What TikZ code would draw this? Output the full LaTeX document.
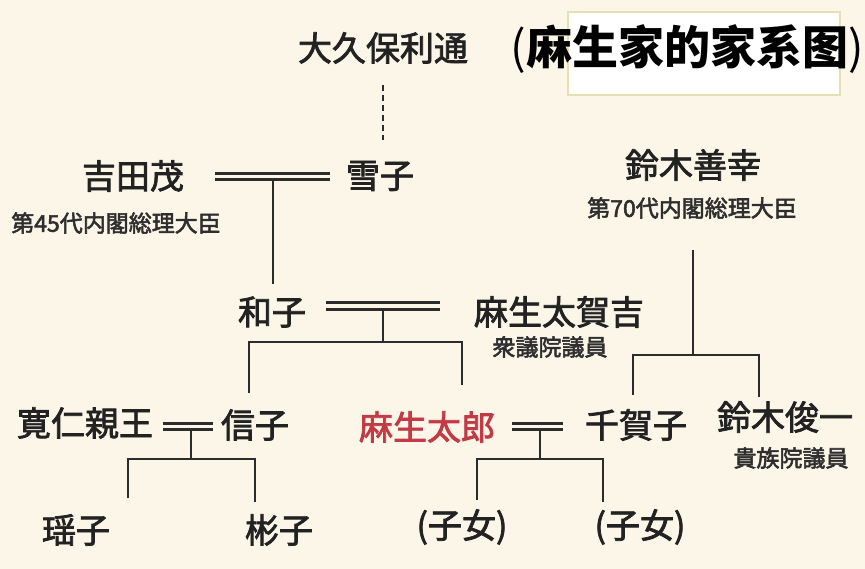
\documentclass[tikz,border=0pt]{standalone}
\usepackage{fontspec}
\setmainfont{Noto Sans CJK JP}
\newfontfamily\jpfont{Noto Sans CJK JP}[FakeBold=2.2]
\newfontfamily\notefont{Noto Sans CJK JP}[FakeBold=2.4]
\newfontfamily\titlefont{Noto Sans CJK SC}
\definecolor{bgcol}{HTML}{FBF6E8}
\definecolor{inkcol}{HTML}{222222}
\definecolor{notecol}{HTML}{2E2E2E}
\definecolor{linecol}{HTML}{2C2C2C}
\definecolor{redcol}{HTML}{C23A45}
\definecolor{boxedge}{HTML}{E4E0B2}
\begin{document}
\begin{tikzpicture}[x=1pt,y=-1pt,
  person/.style={font=\jpfont\fontsize{34}{34}\selectfont, text=inkcol, inner sep=0pt},
  note/.style={font=\notefont\fontsize{23}{23}\selectfont, text=notecol, inner sep=0pt},
  titletext/.style={font=\titlefont\bfseries\fontsize{46}{46}\selectfont, text=black, inner sep=0pt},
  kin/.style={draw=linecol, line width=2.2pt},
  marriage/.style={draw=linecol, line width=3pt, double=bgcol, double distance=3.2pt},
  dashline/.style={draw=linecol, line width=1.8pt, dash pattern=on 6pt off 4pt}]
\useasboundingbox (0,0) rectangle (865,569);
\fill[bgcol] (0,0) rectangle (865,569);
% title
\draw[fill=white, draw=boxedge, line width=2pt] (568,12) rectangle (840,95);
\node[titletext] (title) at (687,49) {{\mdseries(}麻生家的家系图{\mdseries)}};
% people
\node[person] (okubo) at (383,48) {大久保利通};
\node[person] (yoshida) at (133,176) {吉田茂};
\node[person] (yukiko) at (380,176) {雪子};
\node[note] (note45) at (116,223) {第45代内閣総理大臣};
\node[person] (suzukiZ) at (693,165) {鈴木善幸};
\node[note] (note70) at (692,208) {第70代内閣総理大臣};
\node[person] (kazuko) at (272,312) {和子};
\node[person] (takakichi) at (559,312) {麻生太賀吉};
\node[note] (noteSH) at (550,347) {衆議院議員};
\node[person] (tomohito) at (85,423) {寛仁親王};
\node[person] (nobuko) at (255,425) {信子};
\node[person, text=redcol] (taro) at (427,427) {麻生太郎};
\node[person] (chikako) at (636,425) {千賀子};
\node[person] (shunichi) at (785,417) {鈴木俊一};
\node[note] (noteKZ) at (791,458) {貴族院議員};
\node[person] (yoko) at (76,530) {瑶子};
\node[person] (akiko) at (279,530) {彬子};
\node[person] (childA) at (462,527) {(子女)};
\node[person] (childB) at (640,527) {(子女)};
% junction coordinates
\coordinate (dtop) at (383,85);
\coordinate (dbot) at (383,140);
\coordinate (m1a) at (215,176.3);
\coordinate (m1b) at (330,176.3);
\coordinate (m1) at (273,176.3);
\coordinate (m1e) at (273,284);
\coordinate (m2a) at (326,306);
\coordinate (m2b) at (440,306);
\coordinate (m2) at (383,306);
\coordinate (j2) at (383,342);
\coordinate (j2l) at (249,342);
\coordinate (j2r) at (462,342);
\coordinate (e2l) at (249,393);
\coordinate (e2r) at (462,385);
\coordinate (sz) at (693,250);
\coordinate (j5) at (693,355);
\coordinate (j5l) at (633,355);
\coordinate (j5r) at (759,355);
\coordinate (e5l) at (633,395);
\coordinate (e5r) at (759,397);
\coordinate (m3a) at (163,426.5);
\coordinate (m3b) at (213,426.5);
\coordinate (m3) at (191,426.5);
\coordinate (j3) at (191,459);
\coordinate (j3l) at (128,459);
\coordinate (j3r) at (255,459);
\coordinate (e3l) at (128,498);
\coordinate (e3r) at (255,502);
\coordinate (m4a) at (512,426.5);
\coordinate (m4b) at (563,426.5);
\coordinate (m4) at (540,426.5);
\coordinate (j4) at (540,459);
\coordinate (j4l) at (477,459);
\coordinate (j4r) at (603,459);
\coordinate (e4l) at (477,500);
\coordinate (e4r) at (603,502);
% connectors
\draw[dashline] (dtop) -- (dbot);
\draw[kin] (m1) -- (m1e);
\draw[marriage] (m1a) -- (m1b);
\draw[kin] (m2) -- (j2);
\draw[kin] (e2l) -- (j2l) -- (j2r) -- (e2r);
\draw[marriage] (m2a) -- (m2b);
\draw[kin] (sz) -- (j5);
\draw[kin] (e5l) -- (j5l) -- (j5r) -- (e5r);
\draw[kin] (m3) -- (j3);
\draw[kin] (e3l) -- (j3l) -- (j3r) -- (e3r);
\draw[marriage] (m3a) -- (m3b);
\draw[kin] (m4) -- (j4);
\draw[kin] (e4l) -- (j4l) -- (j4r) -- (e4r);
\draw[marriage] (m4a) -- (m4b);
\end{tikzpicture}
\end{document}
